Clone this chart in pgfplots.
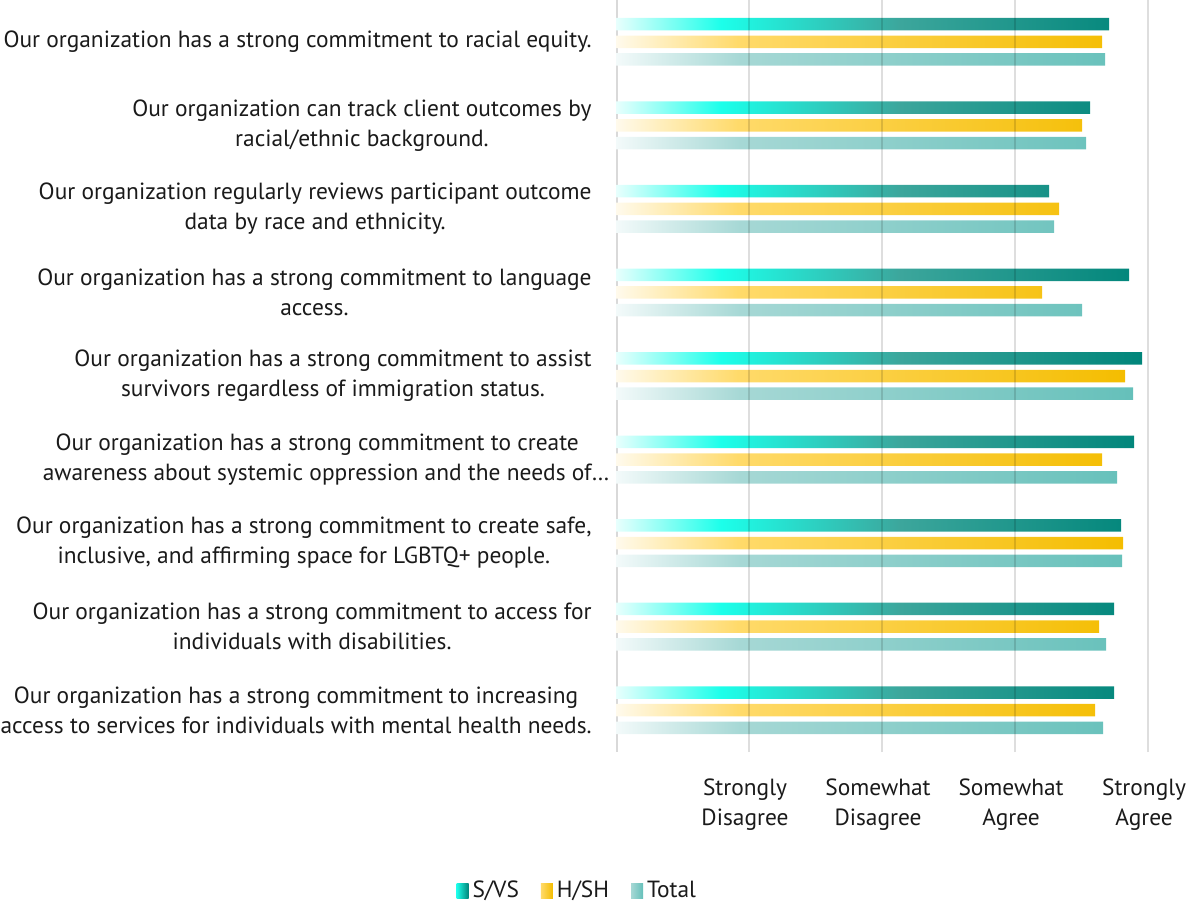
\documentclass[border=0pt]{standalone}
\usepackage{pgfplots}
\pgfplotsset{compat=1.18}
\usepackage{fontspec}
\setmainfont{PT Sans}

\definecolor{svA}{HTML}{E8FFFD}
\definecolor{svB}{HTML}{1CFFEA}
\definecolor{svC}{HTML}{3CA69C}
\definecolor{svD}{HTML}{00857A}
\definecolor{hsA}{HTML}{FFFAEC}
\definecolor{hsB}{HTML}{FFDA6A}
\definecolor{hsD}{HTML}{F4BD00}
\definecolor{ttA}{HTML}{F3FAFA}
\definecolor{ttB}{HTML}{A6D8D5}
\definecolor{ttD}{HTML}{65C0BA}
\definecolor{txt}{HTML}{1A1A1A}

\pgfdeclarehorizontalshading{svvs}{100bp}{color(0bp)=(svA); color(25bp)=(svA); color(35bp)=(svB); color(52bp)=(svC); color(75bp)=(svD); color(100bp)=(svD)}
\pgfdeclarehorizontalshading{hssh}{100bp}{color(0bp)=(hsA); color(25bp)=(hsA); color(37bp)=(hsB); color(75bp)=(hsD); color(100bp)=(hsD)}
\pgfdeclarehorizontalshading{total}{100bp}{color(0bp)=(ttA); color(25bp)=(ttA); color(37bp)=(ttB); color(75bp)=(ttD); color(100bp)=(ttD)}

\begin{document}
\begin{tikzpicture}
\useasboundingbox (0,0) rectangle (594pt,451pt);
\begin{axis}[
  at={(308pt,75pt)}, anchor=south west,
  scale only axis, width=286pt, height=376pt,
  xmin=0, xmax=4.3, ymin=0.5, ymax=9.5,
  xbar, bar width=6.25pt,
  xtick={1,2,3,4},
  xticklabels={{Strongly\\Disagree},{Somewhat\\Disagree},{Somewhat\\Agree},{Strongly\\Agree}},
  xticklabel style={align=center, font=\fontsize{11.7}{15}\selectfont, text=txt, inner sep=0pt, yshift=-13pt, xshift=-2pt},
  ytick={1,2,3,4,5,6,7,8,9},
  yticklabels={
    {Our organization has a strong commitment to increasing\\access to services for individuals with mental health needs.},
    {Our organization has a strong commitment to access for\\individuals with disabilities.},
    {Our organization has a strong commitment to create safe,\\inclusive, and affirming space for LGBTQ+ people.},
    {Our organization has a strong commitment to create\\awareness about systemic oppression and the needs of\rlap{\ldots}},
    {Our organization has a strong commitment to assist\\survivors regardless of immigration status.},
    {Our organization has a strong commitment to language\\access.},
    {Our organization regularly reviews participant outcome\\data by race and ethnicity.},
    {Our organization can track client outcomes by\\racial/ethnic background.},
    {Our organization has a strong commitment to racial equity.}},
  yticklabel style={align=center, font=\fontsize{11.7}{15}\selectfont, text=txt, inner sep=0pt, xshift=-12pt},
  major tick length=0pt,
  xmajorgrids,
  major grid style={black, opacity=0.13, line width=0.8pt},
  axis line style={draw=none},
  axis on top,
  legend columns=3,
  legend style={draw=none, at={(-0.066,-0.185)}, anchor=center, font=\fontsize{11.7}{13}\selectfont, text=txt,
    /tikz/every even column/.append style={column sep=9pt}},
]
\draw[gray!30, line width=1.6pt] (axis cs:0,0.5) -- (axis cs:0,9.5);
\addplot[draw=none, shading=svvs, bar shift=8.85pt,
  legend image code/.code={\shade[left color=svB, right color=svD] (0pt,-3.6pt) rectangle (6pt,3.6pt);}]
  coordinates {(3.744,1) (3.744,2) (3.797,3) (3.895,4) (3.955,5) (3.857,6) (3.256,7) (3.564,8) (3.707,9)};
\addlegendentry{S/VS}
\addplot[draw=none, shading=hssh, bar shift=0pt,
  legend image code/.code={\shade[left color=hsB, right color=hsD] (0pt,-3.6pt) rectangle (6pt,3.6pt);}]
  coordinates {(3.602,1) (3.632,2) (3.812,3) (3.654,4) (3.827,5) (3.203,6) (3.331,7) (3.504,8) (3.654,9)};
\addlegendentry{H/SH}
\addplot[draw=none, shading=total, bar shift=-8.85pt,
  legend image code/.code={\shade[left color=ttB, right color=ttD] (0pt,-3.6pt) rectangle (6pt,3.6pt);}]
  coordinates {(3.662,1) (3.684,2) (3.805,3) (3.767,4) (3.887,5) (3.504,6) (3.293,7) (3.534,8) (3.677,9)};
\addlegendentry{Total}
\end{axis}
\end{tikzpicture}
\end{document}
